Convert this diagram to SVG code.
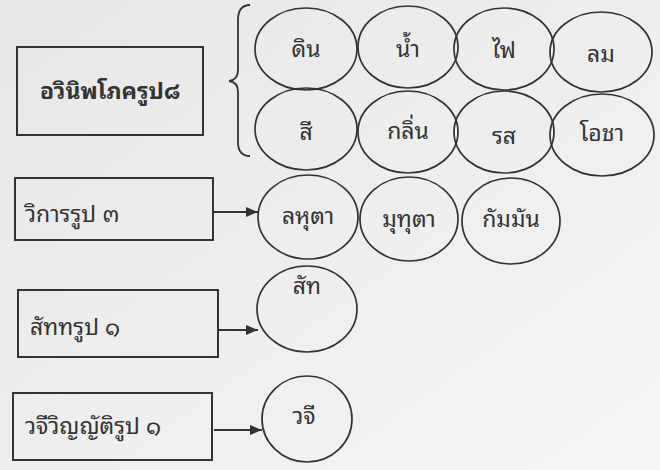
<svg xmlns="http://www.w3.org/2000/svg" width="660" height="470" viewBox="0 0 660 470">
<defs>
<linearGradient id="bg" x1="0" y1="0" x2="1" y2="1">
<stop offset="0" stop-color="#e7e7e7"/>
<stop offset="1" stop-color="#f5f5f5"/>
</linearGradient>
<marker id="arr" viewBox="0 0 12 10" refX="12" refY="5" markerWidth="12" markerHeight="10" markerUnits="userSpaceOnUse" orient="auto">
<path d="M0,0 L12,5 L0,10 Z" fill="#333"/>
</marker>
</defs>
<style>
.box{fill:none;stroke:#333;stroke-width:2}
.ell{fill:none;stroke:#333;stroke-width:1.7}
.t{font-family:"Noto Sans Thai Looped","Noto Serif Thai","Loma","Garuda","Tahoma","Noto Sans Thai","Noto Sans","DejaVu Sans",sans-serif;fill:#333;font-size:23px}
.c{text-anchor:middle}
.conn{fill:none;stroke:#333;stroke-width:1.8}
</style>
<rect width="660" height="470" fill="url(#bg)"/>

<g id="n-awinip">
<rect class="box" x="17" y="47" width="186" height="88"/>
<text class="t c" x="110" y="99" font-weight="bold" font-size="26">อวินิพโภครูป๘</text>
</g>
<g id="n-din"><ellipse class="ell" cx="306" cy="49" rx="51" ry="41"/><text class="t c" x="306" y="57">ดิน</text></g>
<g id="n-nam"><ellipse class="ell" cx="408" cy="47" rx="50" ry="41"/><text class="t c" x="408" y="57">น้ำ</text></g>
<g id="n-fai"><ellipse class="ell" cx="504" cy="49" rx="50" ry="41"/><text class="t c" x="504" y="58">ไฟ</text></g>
<g id="n-lom"><ellipse class="ell" cx="601" cy="52" rx="51" ry="40"/><text class="t c" x="601" y="62">ลม</text></g>
<g id="n-si"><ellipse class="ell" cx="306" cy="129" rx="51" ry="41"/><text class="t c" x="306" y="140">สี</text></g>
<g id="n-klin"><ellipse class="ell" cx="408" cy="132" rx="50" ry="41"/><text class="t c" x="408" y="139">กลิ่น</text></g>
<g id="n-rot"><ellipse class="ell" cx="504" cy="132" rx="50" ry="41"/><text class="t c" x="504" y="144">รส</text></g>
<g id="n-ocha"><ellipse class="ell" cx="602" cy="135" rx="52" ry="41"/><text class="t c" x="602" y="141" font-size="18">โอชา</text></g>

<g id="n-wikan">
<rect class="box" x="15" y="178" width="198" height="62"/>
<text class="t" x="25" y="222">วิการรูป ๓</text>
</g>
<g id="n-lahuta"><ellipse class="ell" cx="308" cy="217" rx="50" ry="42"/><text class="t c" x="308" y="224">ลหุตา</text></g>
<g id="n-muduta"><ellipse class="ell" cx="409" cy="219" rx="49" ry="42"/><text class="t c" x="409" y="227">มุทุตา</text></g>
<g id="n-kamman"><ellipse class="ell" cx="511" cy="221" rx="49" ry="43"/><text class="t c" x="511" y="227">กัมมัน</text></g>

<g id="n-sadda">
<rect class="box" x="18" y="290" width="200" height="67"/>
<text class="t" x="30" y="335">สัททรูป ๑</text>
</g>
<g id="n-sat"><ellipse class="ell" cx="307" cy="309" rx="50" ry="43"/><text class="t c" x="307" y="294">สัท</text></g>

<g id="n-wachi">
<rect class="box" x="13" y="393" width="199" height="67"/>
<text class="t" x="25" y="434">วจีวิญญัติรูป ๑</text>
</g>
<g id="n-wc"><ellipse class="ell" cx="307" cy="419" rx="45" ry="43"/><text class="t c" x="304" y="424">วจี</text></g>

<g id="connectors">
<path class="conn" d="M250,5 Q238,5 238,20 L238,70 Q238,80 229,81 Q238,82 238,92 L238,142 Q238,156 250,156" stroke-width="1.5"/>
<line class="conn" x1="213" y1="212" x2="258" y2="212" marker-end="url(#arr)"/>
<line class="conn" x1="218" y1="330" x2="258" y2="330" marker-end="url(#arr)"/>
<line class="conn" x1="214" y1="430" x2="262" y2="430" marker-end="url(#arr)"/>
</g>
</svg>
